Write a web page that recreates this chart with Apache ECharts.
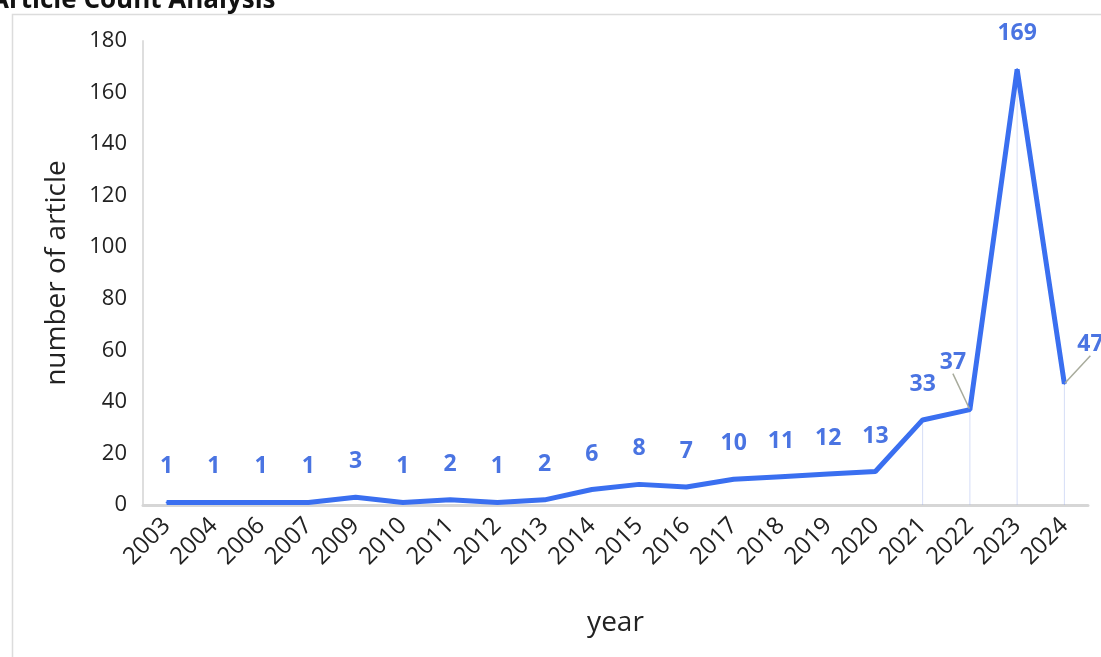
<!DOCTYPE html>
<html>
<head>
<meta charset="utf-8">
<style>
  html, body { margin: 0; padding: 0; background: #fff; }
  #chart { width: 1101px; height: 657px; }
</style>
<script src="https://cdn.jsdelivr.net/npm/echarts@6/dist/echarts.min.js"></script>
</head>
<body>
<div id="chart"></div>
<script>
// Publication years and number of articles per year
const years = ['2003','2004','2006','2007','2009','2010','2011','2012','2013','2014',
               '2015','2016','2017','2018','2019','2020','2021','2022','2023','2024'];
const articleCounts = [1,1,1,1,3,1,2,1,2,6,8,7,10,11,12,13,33,37,169,47];
// Years whose counts get a thin drop line to the axis
const dropLineYears = ['2021','2022','2023','2024'];
// Years whose value labels are nudged aside with a leader line
const nudgedLabelYears = ['2022','2024'];
const yTicks = { min: 0, max: 180, interval: 20 };

const chart = echarts.init(document.getElementById('chart'), null, { renderer: 'canvas' });

const dropData = years.map((y, i) => dropLineYears.includes(y) ? articleCounts[i] : '-');
const lineData = years.map((y, i) => ({
  value: articleCounts[i],
  labelLine: { show: nudgedLabelYears.includes(y) }
}));

chart.setOption({
  animation: false,
  backgroundColor: '#fff',
  title: {
    text: 'Article Count Analysis',
    left: -14,
    top: -17,
    textStyle: { fontFamily: 'Open Sans', fontWeight: 'bold', fontSize: 26, color: '#111' }
  },
  graphic: [{
    type: 'rect',
    left: 10, top: 12,
    shape: { width: 1120, height: 700 },
    style: { fill: 'none', stroke: '#dcdcdc', lineWidth: 1.5 },
    z: -1
  }],
  grid: { left: 143, right: 13, top: 41, bottom: 152 },
  xAxis: {
    type: 'category',
    data: years,
    boundaryGap: true,
    name: 'year',
    nameLocation: 'middle',
    nameGap: 104,
    nameTextStyle: { fontFamily: 'Open Sans', fontSize: 28, color: '#222' },
    axisLine: { lineStyle: { color: '#d6d6d6', width: 3 } },
    axisTick: { show: false },
    axisLabel: { rotate: 45, fontFamily: 'Open Sans', fontSize: 24, color: '#222', margin: 17, interval: 0 }
  },
  yAxis: {
    type: 'value',
    min: yTicks.min, max: yTicks.max, interval: yTicks.interval,
    name: 'number of article',
    nameLocation: 'middle',
    nameGap: 72,
    nameTextStyle: { fontFamily: 'Open Sans', fontSize: 28, color: '#222' },
    axisLine: { show: true, lineStyle: { color: '#dedede', width: 2 } },
    axisTick: { show: false },
    splitLine: { show: false },
    axisLabel: { fontFamily: 'Open Sans', fontSize: 22, color: '#222', margin: 16 }
  },
  series: [
    {
      type: 'bar',
      data: dropData,
      barWidth: 1,
      itemStyle: { color: 'rgba(160,178,235,0.45)' },
      silent: true,
      z: 1
    },
    {
      type: 'line',
      data: lineData,
      showSymbol: true,
      symbol: 'circle',
      symbolSize: 2,
      itemStyle: { color: '#3a6ff0' },
      lineStyle: { color: '#3a6ff0', width: 5 },
      label: {
        show: true,
        position: 'top',
        distance: 23,
        fontFamily: 'Open Sans',
        fontWeight: 'bold',
        fontSize: 23,
        color: '#4a74e2'
      },
      labelLine: { lineStyle: { color: '#a8ab9c', width: 1.5 } },
      labelLayout: function (p) {
        if (years[p.dataIndex] === '2022') return { dx: -17, dy: -12 };
        if (years[p.dataIndex] === '2024') return { dx: 26, dy: -4 };
        return {};
      },
      z: 3
    }
  ]
});
</script>
</body>
</html>
